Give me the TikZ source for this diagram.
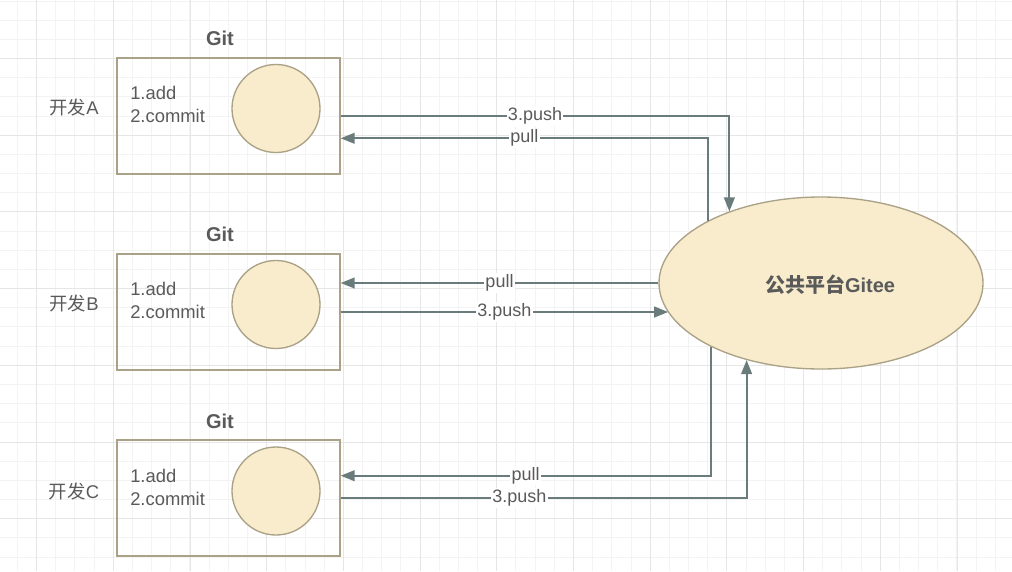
\documentclass[tikz,border=0pt]{standalone}
\usepackage{fontspec}
\setmainfont{Liberation Sans}
\newfontfamily\cjk{Noto Sans CJK SC}
\usepackage{xcolor}
\usetikzlibrary{arrows.meta,shapes.geometric,calc}

\definecolor{gridminor}{HTML}{F3F3F3}
\definecolor{gridmajor}{HTML}{E6E6E6}
\definecolor{edge}{HTML}{AAA186}
\definecolor{paper}{HTML}{F8ECCD}
\definecolor{wire}{HTML}{6A7B7B}
\definecolor{ink}{HTML}{5A5A5A}

\tikzset{
  box/.style={draw=edge, line width=1pt, minimum width=167.25pt, minimum height=87pt, inner sep=0pt},
  repo/.style={circle, draw=edge, fill=paper, line width=1pt, minimum size=66pt, inner sep=0pt},
  hub/.style={ellipse, draw=edge, fill=paper, line width=1pt, minimum width=243pt, minimum height=129pt, inner sep=0pt},
  txt/.style={text=ink, inner sep=0.75pt, font=\fontsize{13.8}{17.25}\selectfont},
  head/.style={text=ink, inner sep=0.75pt, font=\fontsize{15}{18}\selectfont\bfseries},
  flow/.style={draw=wire, line width=1.5pt, -{Triangle[length=10.5pt,width=8pt]}},
  tag/.style={fill=white, text=ink, inner sep=1pt, font=\fontsize{13.5}{16}\selectfont}
}

\begin{document}
\begin{tikzpicture}[x=0.75pt,y=0.75pt,yscale=-1,xscale=1]
\useasboundingbox (0,0) rectangle (1012,571);
\fill[white] (0,0) rectangle (1012,571);

% background grid
\foreach \i in {0,...,52} \draw[gridminor, line width=0.75pt] ({17.4+19.175*\i},0) -- ({17.4+19.175*\i},571);
\foreach \j in {0,...,29} \draw[gridminor, line width=0.75pt] (0,{1+19.175*\j}) -- (1012,{1+19.175*\j});
\foreach \i in {0,...,12} \draw[gridmajor, line width=0.75pt] ({36.6+76.7*\i},0) -- ({36.6+76.7*\i},571);
\foreach \j in {0,...,6} \draw[gridmajor, line width=0.75pt] (0,{58.5+76.7*\j}) -- (1012,{58.5+76.7*\j});

% developer A
\node[box] (boxA) at (228.5,116) {};
\node[repo] (repoA) at (276,108.5) {};
\node[txt, anchor=west, align=left] (stepsA) at (129,104) {1.add\\2.commit};
\node[txt] (devA) at (74,108) {{\cjk 开发}A};
\node[head] (gitA) at (220,38) {Git};

% developer B
\node[box] (boxB) at (228.5,312) {};
\node[repo] (repoB) at (276,304.5) {};
\node[txt, anchor=west, align=left] (stepsB) at (129,300) {1.add\\2.commit};
\node[txt] (devB) at (74,304) {{\cjk 开发}B};
\node[head] (gitB) at (220,234) {Git};

% developer C
\node[box] (boxC) at (228.5,498) {};
\node[repo] (repoC) at (276,491) {};
\node[txt, anchor=west, align=left] (stepsC) at (129,487) {1.add\\2.commit};
\node[txt] (devC) at (74,491) {{\cjk 开发}C};
\node[head] (gitC) at (220,421) {Git};

% platform
\node[hub] (gitee) at (821,283) {};
\node[head] (giteeText) at (830,285) {{\cjk 公共平台}Gitee};

% push and pull
\draw[flow] (boxA.east) -| node[tag, pos=0.25] {3.push} (gitee.142);
\draw[flow] (gitee.151) |- node[tag, pos=0.75] {pull} ($(boxA.east)!0.38!(boxA.south east)$);

\draw[flow] (gitee.west) -- node[tag] {pull} (gitee.west -| boxB.east);
\draw[flow] (boxB.east) -- node[tag] {3.push} (boxB.east -| gitee.191);

\draw[flow] (gitee.210) |- node[tag, pos=0.75] {pull} ($(boxC.east)!0.38!(boxC.north east)$);
\draw[flow] (boxC.east) -| node[tag, pos=0.22] {3.push} (gitee.226);
\end{tikzpicture}
\end{document}
